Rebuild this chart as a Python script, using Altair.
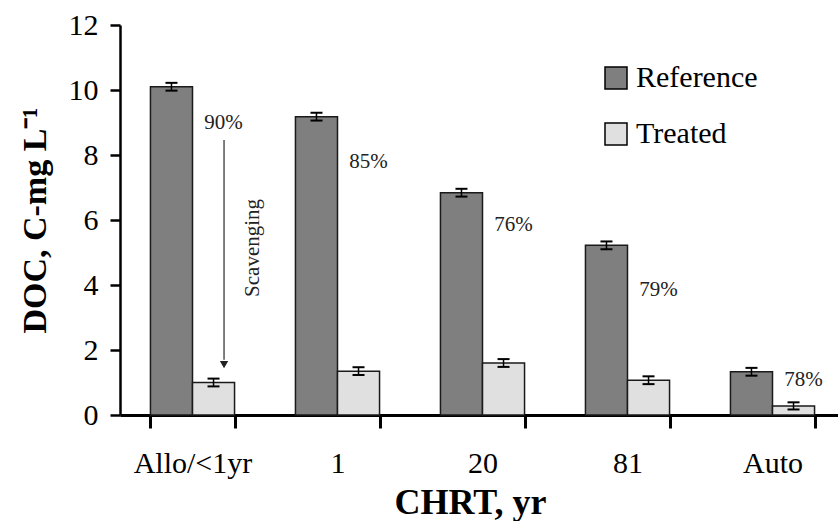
import altair as alt
import pandas as pd

categories = ["Allo/<1yr", "1", "20", "81", "Auto"]
series = ["Reference", "Treated"]
reference = [10.1, 9.18, 6.84, 5.22, 1.33]
treated = [1.0, 1.35, 1.6, 1.07, 0.28]
reference_err = [0.12, 0.12, 0.12, 0.12, 0.12]
treated_err = [0.12, 0.12, 0.12, 0.12, 0.11]
pct_labels = ["90%", "85%", "76%", "79%", "78%"]
pct_y = [9.0, 7.8, 5.85, 3.85, 1.08]
arrow_from = 8.46
arrow_to = 1.7
arrow_head = 1.55
scav_text = "Scavenging"
scav_y = 5.14

rows = []
for i, c in enumerate(categories):
    rows.append({"cat": c, "series": "Reference", "val": reference[i],
                 "lo": reference[i] - reference_err[i], "hi": reference[i] + reference_err[i]})
    rows.append({"cat": c, "series": "Treated", "val": treated[i],
                 "lo": treated[i] - treated_err[i], "hi": treated[i] + treated_err[i]})
df = pd.DataFrame(rows)
df_pct = pd.DataFrame({"cat": categories, "val": pct_y, "label": pct_labels})
df_arrow = pd.DataFrame({"cat": [categories[0]], "val": [arrow_from], "val2": [arrow_to], "head": [arrow_head]})
df_scav = pd.DataFrame({"cat": [categories[0]], "val": [scav_y], "label": [scav_text]})

FONT = "Liberation Serif, Times New Roman, serif"

xscale = alt.Scale(domain=categories, range=[0, 725], paddingInner=0.42, paddingOuter=0.21)
x_axis = alt.Axis(title="CHRT, yr", labelAngle=0, tickBand="extent", tickSize=13, tickWidth=3,
                  domainWidth=3, labelFontSize=30, labelPadding=20, labelFont=FONT,
                  titleFont=FONT, titleFontSize=36, titleFontWeight="bold", titlePadding=7,
                  titleX=350)
yscale = alt.Scale(domain=[0, 12], nice=False)
y_axis = alt.Axis(values=[0, 2, 4, 6, 8, 10, 12], title="DOC, C-mg L⁻¹", titleFontSize=34,
                  titleFontWeight="bold", titlePadding=16, labelFontSize=30, labelPadding=12,
                  labelFont=FONT, titleFont=FONT,
                  tickSize=10, tickWidth=2.5, domainWidth=2.5, grid=False)


def X(**kw):
    return alt.X("cat:N", sort=categories, scale=xscale, axis=x_axis, **kw)


def Y(field="val"):
    return alt.Y(f"{field}:Q", scale=yscale, axis=y_axis)


xoff = alt.XOffset("series:N", sort=series, scale=alt.Scale(domain=series, paddingInner=0, paddingOuter=0))

bars = alt.Chart(df).mark_bar(stroke="#1a1a1a", strokeWidth=1.5).encode(
    x=X(),
    xOffset=xoff,
    y=Y(),
    color=alt.Color("series:N", scale=alt.Scale(domain=series, range=["#7f7f7f", "#e0e0e0"]),
                    legend=alt.Legend(orient="none", legendX=481, legendY=38, title=None,
                                      symbolType="square", symbolSize=484, symbolStrokeColor="black",
                                      symbolStrokeWidth=1.5, labelFontSize=30, labelFont=FONT,
                                      labelColor="black", rowPadding=26, labelOffset=5, padding=0,
                                      symbolOpacity=1)),
)

err_rule = alt.Chart(df).mark_rule(color="black", strokeWidth=1.5).encode(
    x=X(), xOffset=xoff, y=Y("lo"), y2="hi:Q")
err_lo = alt.Chart(df).mark_tick(color="black", size=12, thickness=2, opacity=1).encode(
    x=X(), xOffset=xoff, y=Y("lo"))
err_hi = alt.Chart(df).mark_tick(color="black", size=12, thickness=2, opacity=1).encode(
    x=X(), xOffset=xoff, y=Y("hi"))

pct = alt.Chart(df_pct).mark_text(align="center", baseline="middle", dx=31, fontSize=21,
                                  font=FONT, color="#222").encode(
    x=X(), y=Y(), text="label:N")

arrow_line = alt.Chart(df_arrow).mark_rule(color="#555", strokeWidth=1.5).encode(
    x=X(bandPosition=0.875), y=Y(), y2="val2:Q")
arrow_tip = alt.Chart(df_arrow).mark_point(shape="triangle-down", filled=True, size=70,
                                           color="#222", opacity=1).encode(
    x=X(bandPosition=0.875), y=Y("head"))

scav = alt.Chart(df_scav).mark_text(angle=270, align="center", baseline="middle", dy=60,
                                    fontSize=21, font=FONT, color="#222").encode(
    x=X(), y=Y(), text="label:N")

chart = alt.layer(bars, err_rule, err_lo, err_hi, pct, arrow_line, arrow_tip, scav).properties(
    width=718, height=390,
    padding={"left": 120, "top": 25, "right": 0, "bottom": 106},
    autosize="none",
).configure(font=FONT).configure_view(stroke=None).configure_axis(
    domainColor="black", tickColor="black", labelColor="black", titleColor="black",
    labelFont=FONT, titleFont=FONT,
)

chart.save("out.html", embed_options={"renderer": "svg", "actions": False})
